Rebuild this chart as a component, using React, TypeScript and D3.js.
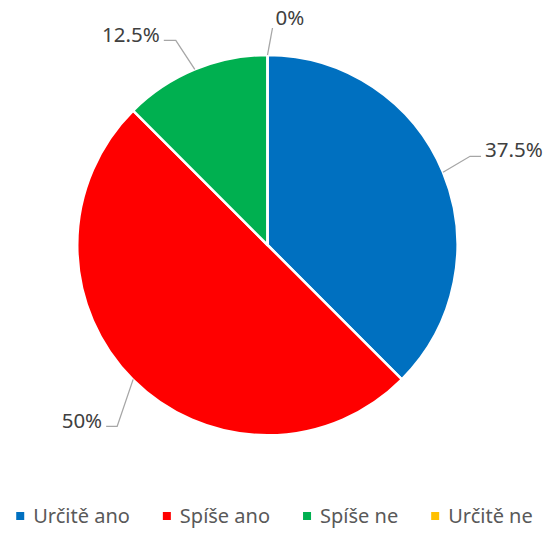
import React, { useRef, useEffect } from 'react';
import * as d3 from 'd3';

const categories = ['Určitě ano', 'Spíše ano', 'Spíše ne', 'Určitě ne'];
const values = [37.5, 50, 12.5, 0];
const colors = ['#0070C0', '#FF0000', '#00B050', '#FFC000'];

// leader-line elbow / end offsets from the slice edge, and horizontal tail length
const leaderOffsets = [[27, -16], [-16, 47], [-19, -29], [5, -27]];
const horizLen = [11, -11, -12, 0];

const App = () => {
    const svgRef = useRef<SVGSVGElement>(null);

    useEffect(() => {
        const svg = d3.select(svgRef.current);
        svg.selectAll('*').remove();

        const width = 549;
        const height = 534;
        const cx = 267.5;
        const cy = 245;
        const radius = 190;

        const pie = d3.pie<number>().sort(null).value(d => d);
        const arcs = pie(values);
        const arc = d3.arc<d3.PieArcDatum<number>>().innerRadius(0).outerRadius(radius);

        const g = svg.append('g').attr('transform', `translate(${cx},${cy})`);

        g.selectAll('path.slice')
            .data(arcs)
            .join('path')
            .attr('class', 'slice')
            .attr('d', arc)
            .attr('fill', (d, i) => colors[i])
            .attr('stroke', '#fff')
            .attr('stroke-width', 2.5)
            .attr('stroke-linejoin', 'round');

        // data labels with leader lines
        arcs.forEach((d, i) => {
            const mid = (d.startAngle + d.endAngle) / 2;
            const x0 = Math.sin(mid) * radius;
            const y0 = -Math.cos(mid) * radius;
            const [dx, dy] = leaderOffsets[i];
            const x1 = x0 + dx;
            const y1 = y0 + dy;
            const x2 = x1 + horizLen[i];
            const pts: [number, number][] = [[x0, y0], [x1, y1], [x2, y1]];
            g.append('path')
                .attr('d', d3.line()(pts))
                .attr('fill', 'none')
                .attr('stroke', '#A6A6A6')
                .attr('stroke-width', 1.3);

            const right = horizLen[i] >= 0;
            let tx = x2 + (right ? 4 : -4);
            let ty = y1 - 6;
            if (i === 3) { tx = x2 + 3; ty = y1 - 10; }
            g.append('text')
                .attr('x', tx)
                .attr('y', ty)
                .attr('dy', '0.35em')
                .attr('text-anchor', right ? 'start' : 'end')
                .attr('font-family', 'Noto Sans, sans-serif')
                .attr('font-size', 20.5)
                .attr('fill', '#404040')
                .text(`${values[i]}%`);
        });

        // legend, laid out by measured text widths
        const legend = svg.append('g').attr('transform', `translate(0,${height - 14})`);
        const items = legend.selectAll('g')
            .data(categories)
            .join('g');

        items.append('rect')
            .attr('x', 0)
            .attr('y', -8)
            .attr('width', 8)
            .attr('height', 8)
            .attr('fill', (d, i) => colors[i]);

        const texts = items.append('text')
            .attr('x', 17)
            .attr('y', -4)
            .attr('dy', '0.35em')
            .attr('font-family', 'Noto Sans, sans-serif')
            .attr('font-size', 20)
            .attr('fill', '#595959')
            .text(d => d);

        const widths = texts.nodes().map(n => (n as SVGTextElement).getComputedTextLength());
        const gap = 33;
        const total = d3.sum(widths) + widths.length * 17 + (widths.length - 1) * gap;
        let x = (width - total) / 2;
        const xs = widths.map(w => { const p = x; x += 17 + w + gap; return p; });
        items.attr('transform', (d, i) => `translate(${xs[i]},0)`);

        svg.attr('width', width).attr('height', height);
    }, []);

    return (
        <svg ref={svgRef} width={549} height={534}
            style={{ position: 'absolute', left: 0, top: 0, background: '#fff' }} />
    );
};

export default App;
